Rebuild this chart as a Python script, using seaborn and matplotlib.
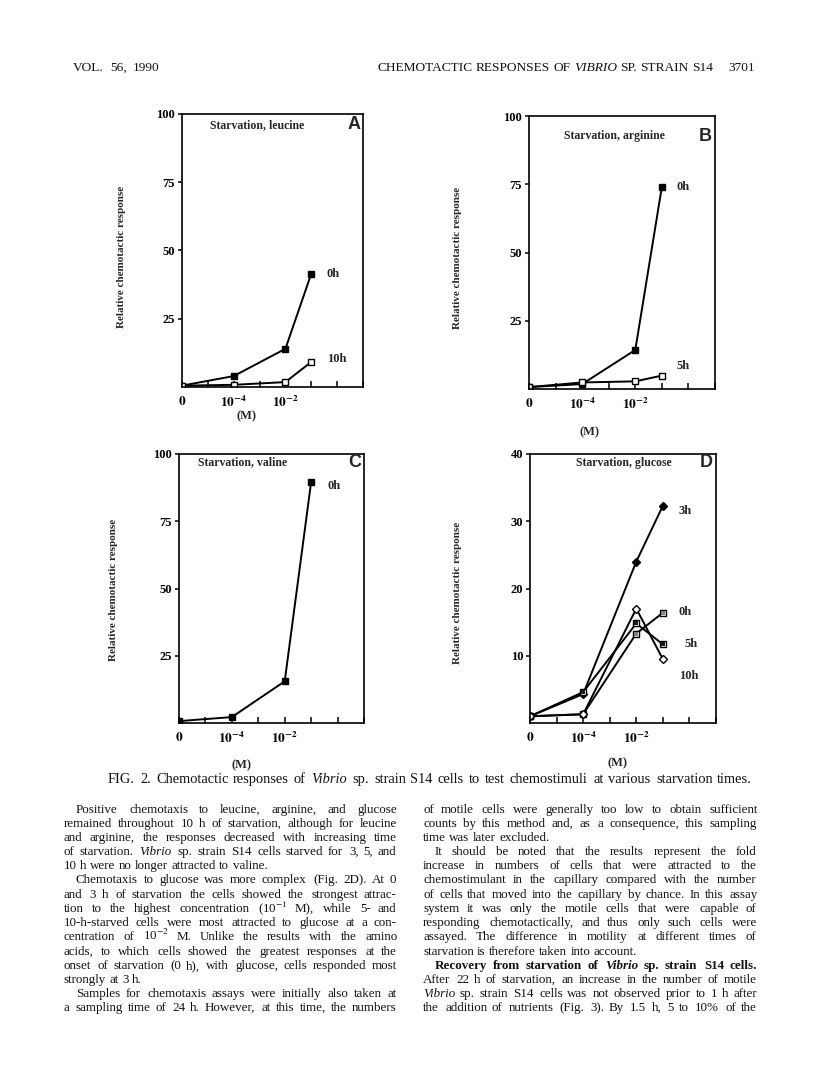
import numpy as np
import pandas as pd
import seaborn as sns
import matplotlib
matplotlib.use("Agg")
import matplotlib.pyplot as plt
from matplotlib.transforms import IdentityTransform

# concentrations on the x axis (0 plus molar values)
conc = [0, 1e-4, 1e-2, 1e-1]

# relative chemotactic response
leucine_0h = [0.5, 4.0, 14.0, 41.5]
leucine_10h = [0.5, 0.8, 1.8, 9.2]
arginine_0h = [0.7, 1.8, 14.3, 74.0]
arginine_5h = [0.7, 2.4, 2.8, 4.9]
valine_0h = [0.7, 2.2, 15.5, 89.6]
glucose_0h = [1.0, 1.3, 13.3, 16.4]
glucose_3h = [1.0, 4.3, 24.0, 32.3]
glucose_5h = [1.0, 4.6, 14.8, 11.7]
glucose_10h = [1.0, 1.3, 17.0, 9.5]

W, H = 816, 1083

sns.set_theme(style="ticks")
plt.rcParams["font.family"] = ["Liberation Serif", "DejaVu Serif"]
plt.rcParams["mathtext.fontset"] = "stix"


def to_pos(c):
    # 0 sits two decades left of 10^-4, then one unit per decade
    return 0.0 if c == 0 else np.log10(c) + 6


fig = plt.figure(figsize=(W / 100, H / 100), dpi=100)


def box(l, t, r, b):
    return [l / W, 1 - b / H, (r - l) / W, (b - t) / H]


def panel(rect, ymax, yticks, title, tx, ty, letter, series):
    ax = fig.add_axes(rect)
    for vals, lab, lx, ly, mk in series:
        df = pd.DataFrame({"x": [to_pos(c) for c in conc], "y": vals})
        sns.lineplot(data=df, x="x", y="y", ax=ax, color="black", lw=1.4,
                     marker=mk.get("marker", "s"), markersize=mk.get("ms", 5.0),
                     markerfacecolor=mk.get("mfc", "black"),
                     markeredgecolor="black", markeredgewidth=1.0)
        if "dot" in mk:
            ax.plot([to_pos(c) for c in conc], vals, ls="none", marker="s",
                    ms=2.6, color=mk["dot"], mew=0)
        ax.text(lx, ly, lab, fontsize=9, weight="bold", va="center", ha="left")
    ax.set_xlim(0, 7)
    ax.set_ylim(0, ymax)
    ax.set_xticks(range(8))
    xl = [""] * 8
    xl[int(to_pos(0))] = r"$\mathbf{0}$"
    xl[int(to_pos(1e-4))] = r"$\mathbf{10^{-4}}$"
    xl[int(to_pos(1e-2))] = r"$\mathbf{10^{-2}}$"
    ax.set_xticklabels(xl, fontsize=9.5)
    ax.set_yticks(yticks)
    ax.set_yticklabels([str(v) for v in yticks], fontsize=9, weight="bold")
    ax.tick_params(axis="x", direction="in", length=4, width=1.1, pad=6, colors="black")
    ax.tick_params(axis="y", direction="out", length=3, width=1.1, pad=2, colors="black")
    ax.set_xlabel("")
    ax.set_ylabel("")
    for s in ax.spines.values():
        s.set_visible(True)
        s.set_linewidth(1.2)
        s.set_color("black")
    ax.text(tx, ty, title, transform=ax.transAxes, fontsize=8.5, weight="bold",
            va="center", ha="left")
    ax.text(0.985, ty if letter != "A" else 0.96, letter, transform=ax.transAxes,
            fontsize=13, weight="bold", family="Liberation Sans", va="center", ha="right")
    return ax


filled = {"marker": "s", "mfc": "black"}
hollow = {"marker": "s", "mfc": "white"}

panel(box(182, 114, 363, 387), 100, [25, 50, 75, 100], "Starvation, leucine", 0.155, 0.96, "A",
      [(leucine_0h, "0h", 5.6, 41.5, filled), (leucine_10h, "10h", 5.6, 10.3, hollow)])
panel(box(529, 116, 715, 389), 100, [25, 50, 75, 100], "Starvation, arginine", 0.19, 0.925, "B",
      [(arginine_0h, "0h", 5.55, 74, filled), (arginine_5h, "5h", 5.55, 8.4, hollow)])
panel(box(179, 454, 364, 723), 100, [25, 50, 75, 100], "Starvation, valine", 0.10, 0.97, "C",
      [(valine_0h, "0h", 5.6, 88, filled)])
panel(box(530, 454, 716, 723), 40, [10, 20, 30, 40], "Starvation, glucose", 0.25, 0.967, "D",
      [(glucose_3h, "3h", 5.6, 31.5, {"marker": "D", "ms": 3.8, "mfc": "black"}),
       (glucose_0h, "0h", 5.6, 16.5, {"marker": "s", "mfc": "white", "dot": "0.5"}),
       (glucose_5h, "5h", 5.8, 11.8, {"marker": "s", "mfc": "white", "dot": "0.1"}),
       (glucose_10h, "10h", 5.6, 7.0, {"marker": "D", "ms": 3.8, "mfc": "white"})])

# axis titles placed in page pixels
for x, y in [(121, 257), (458, 258), (113, 590), (458, 593)]:
    fig.text(x / W, 1 - y / H, "Relative chemotactic response", rotation=90,
             fontsize=8, weight="bold", ha="center", va="center")
for x, y in [(247, 416), (590, 432), (242, 765), (617, 763)]:
    fig.text(x / W, 1 - y / H, "(M)", fontsize=9, weight="bold", ha="center", va="center")

renderer = fig.canvas.get_renderer()


def put_line(line, x0, x1, yc, size, justify=True, weight="normal"):
    arts = []
    for tok in line.split():
        it = tok.startswith("*") and tok.rstrip(".,").endswith("*")
        txt = tok.replace("*", "")
        arts.append(fig.text(0, 0, txt, transform=IdentityTransform(), fontsize=size,
                             style="italic" if it else "normal", weight=weight,
                             va="baseline", color="#111111"))
    widths = [a.get_window_extent(renderer).width for a in arts]
    gap = size * 0.26 * fig.dpi / 72
    if justify and len(arts) > 1:
        gap = (x1 - x0 - sum(widths)) / (len(arts) - 1)
    x = x0
    yb = round(H - yc - 3.5)
    for a, w in zip(arts, widths):
        a.set_position((round(x), yb))
        x += w + gap


# running header and caption
put_line("VOL. 56, 1990", 73, 160, 68, 9.6, justify=True)
put_line("CHEMOTACTIC RESPONSES OF *VIBRIO* SP. STRAIN S14", 378, 713, 68, 9.6, justify=True)
put_line("3701", 728, 0, 68, 9.6, justify=False)
put_line("FIG. 2. Chemotactic responses of *Vibrio* sp. strain S14 cells to test chemostimuli "
         "at various starvation times.", 108, 752, 780, 10.4, justify=True)

left_col = [
    ("Positive chemotaxis to leucine, arginine, and glucose", 12, True),
    ("remained throughout 10 h of starvation, although for leucine", 0, True),
    ("and arginine, the responses decreased with increasing time", 0, True),
    ("of starvation. *Vibrio* sp. strain S14 cells starved for 3, 5, and", 0, True),
    ("10 h were no longer attracted to valine.", 0, False),
    ("Chemotaxis to glucose was more complex (Fig. 2D). At 0", 12, True),
    ("and 3 h of starvation the cells showed the strongest attrac-", 0, True),
    ("tion to the highest concentration (10$^{-1}$ M), while 5- and", 0, True),
    ("10-h-starved cells were most attracted to glucose at a con-", 0, True),
    ("centration of 10$^{-2}$ M. Unlike the results with the amino", 0, True),
    ("acids, to which cells showed the greatest responses at the", 0, True),
    ("onset of starvation (0 h), with glucose, cells responded most", 0, True),
    ("strongly at 3 h.", 0, False),
    ("Samples for chemotaxis assays were initially also taken at", 12, True),
    ("a sampling time of 24 h. However, at this time, the numbers", 0, True),
]
right_col = [
    ("of motile cells were generally too low to obtain sufficient", 0, True),
    ("counts by this method and, as a consequence, this sampling", 0, True),
    ("time was later excluded.", 0, False),
    ("It should be noted that the results represent the fold", 12, True),
    ("increase in numbers of cells that were attracted to the", 0, True),
    ("chemostimulant in the capillary compared with the number", 0, True),
    ("of cells that moved into the capillary by chance. In this assay", 0, True),
    ("system it was only the motile cells that were capable of", 0, True),
    ("responding chemotactically, and thus only such cells were", 0, True),
    ("assayed. The difference in motility at different times of", 0, True),
    ("starvation is therefore taken into account.", 0, False),
    ("Recovery from starvation of *Vibrio* sp. strain S14 cells.", 12, True),
    ("After 22 h of starvation, an increase in the number of motile", 0, True),
    ("*Vibrio* sp. strain S14 cells was not observed prior to 1 h after", 0, True),
    ("the addition of nutrients (Fig. 3). By 1.5 h, 5 to 10% of the", 0, True),
]
for (x0, x1), col in [((64, 397), left_col), ((423, 757), right_col)]:
    for i, (line, ind, just) in enumerate(col):
        bold = line.startswith("Recovery")
        put_line(line, x0 + ind, x1, 809 + 14.2 * i, 9.4, justify=just,
                 weight="bold" if bold else "normal")

fig.savefig("out.png", dpi=100)
